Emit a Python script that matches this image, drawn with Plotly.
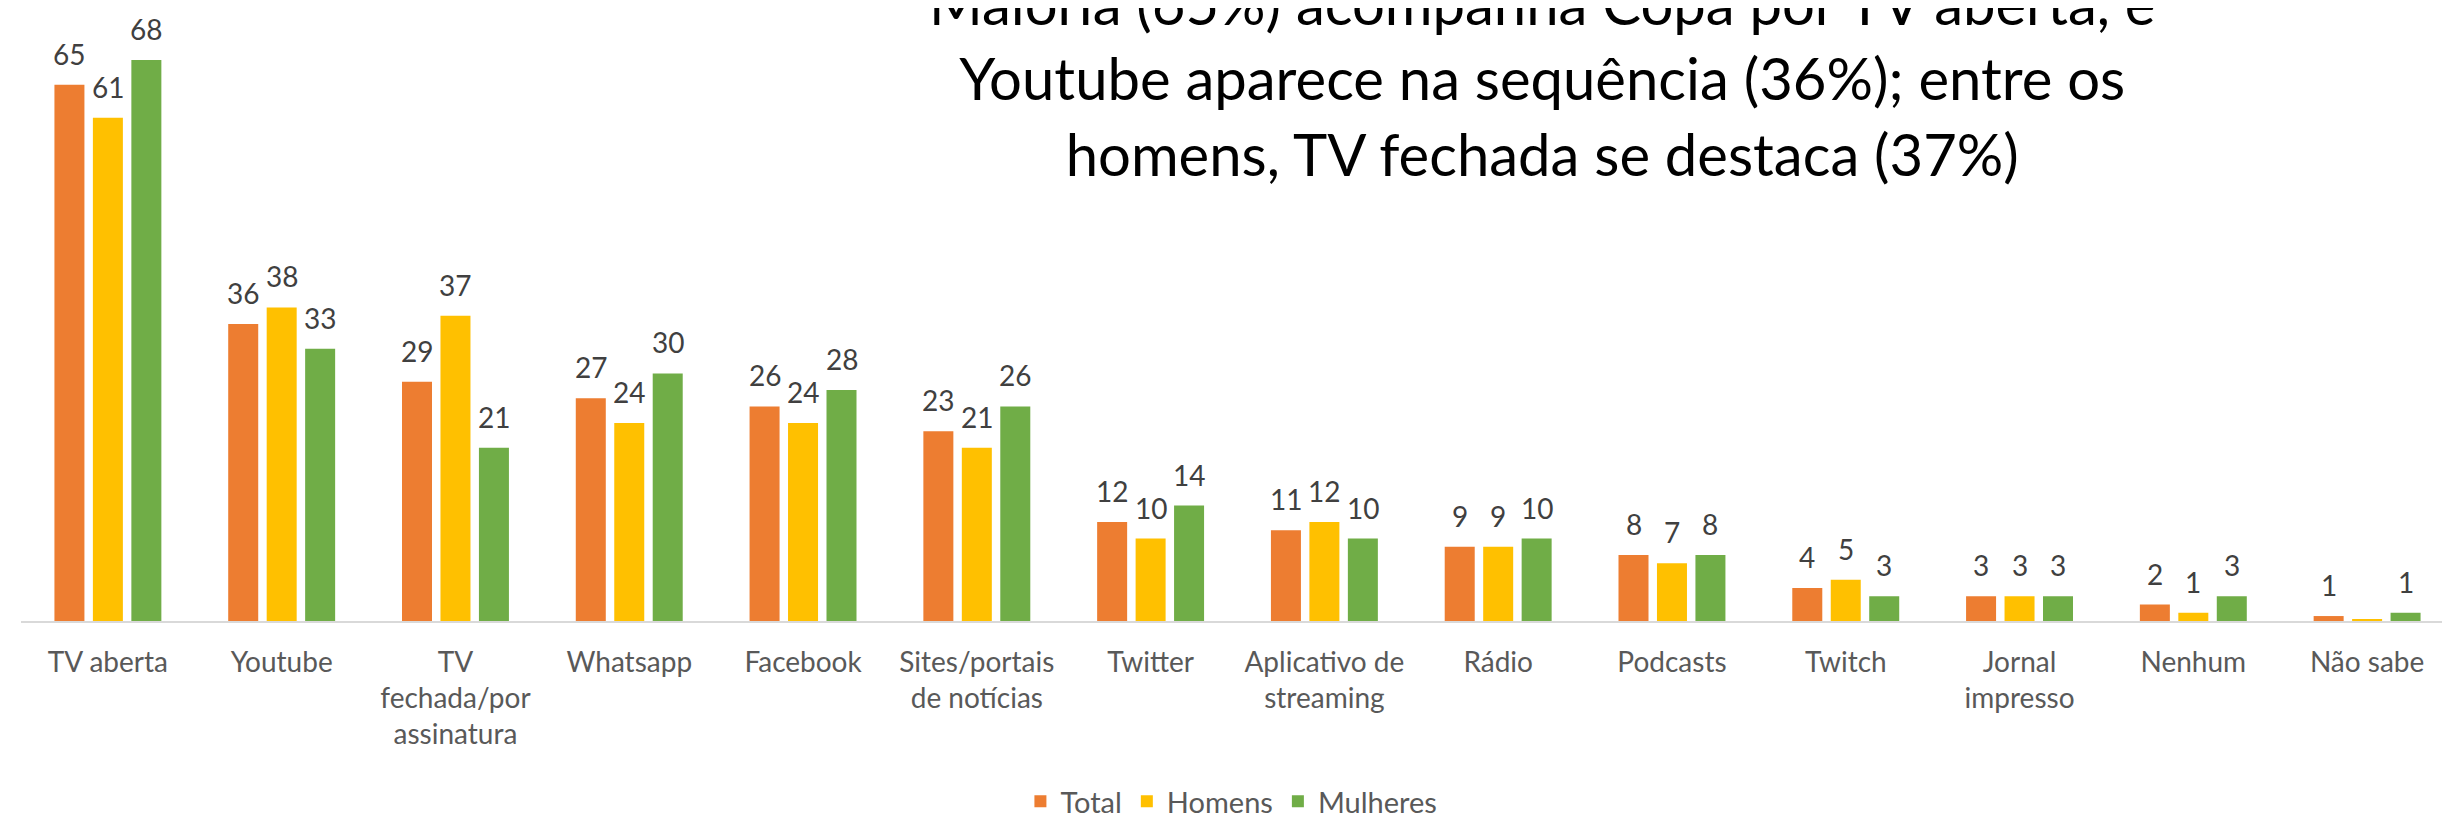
import plotly.graph_objects as go

categories = ["TV aberta", "Youtube", "TV<br>fechada/por<br>assinatura", "Whatsapp", "Facebook",
              "Sites/portais<br>de notícias", "Twitter", "Aplicativo de<br>streaming", "Rádio",
              "Podcasts", "Twitch", "Jornal<br>impresso", "Nenhum", "Não sabe"]
total = [65, 36, 29, 27, 26, 23, 12, 11, 9, 8, 4, 3, 2, 0.6]
homens = [61, 38, 37, 24, 24, 21, 10, 12, 9, 7, 5, 3, 1, 0.2]
mulheres = [68, 33, 21, 30, 28, 26, 14, 10, 10, 8, 3, 3, 3, 1.0]
series_names = ["Total", "Homens", "Mulheres"]
colors = ["#ED7D31", "#FFC000", "#70AD47"]
title_text = ("Maioria (65%) acompanha Copa por TV aberta, e<br>"
              "Youtube aparece na sequência (36%); entre os<br>"
              "homens, TV fechada se destaca (37%)")

FONT = "Lato"
BARGAP = 0.336
BARGROUPGAP = 0.22

fig = go.Figure()
series = [total, homens, mulheres]
for name, vals, col in zip(series_names, series, colors):
    fig.add_trace(go.Bar(name=name, x=categories, y=vals, marker_color=col,
                         marker_line_width=0))

# value labels
slot = (1 - BARGAP) / 3
for k, vals in enumerate(series):
    off = (k - 1) * slot
    for i, v in enumerate(vals):
        lab = round(v)
        if lab == 0:
            continue
        fig.add_annotation(x=i + off, y=v, xref="x", yref="y", text=str(lab),
                           showarrow=False, yanchor="bottom", yshift=12,
                           font=dict(family=FONT, size=28, color="#404040"))

fig.add_annotation(x=0.625, y=0.8857, xref="paper", yref="paper", text=title_text,
                   showarrow=False, xanchor="center", yanchor="middle",
                   font=dict(family=FONT, size=58, color="#000000"))

fig.update_layout(
    width=2450, height=819,
    margin=dict(l=13, r=4, t=0, b=198),
    paper_bgcolor="white", plot_bgcolor="white",
    barmode="group", bargap=BARGAP, bargroupgap=BARGROUPGAP,
    showlegend=True,
    legend=dict(orientation="h", x=0.4975, xanchor="center", y=-0.295, yanchor="middle",
                font=dict(family=FONT, size=29, color="#595959"),
                traceorder="normal", itemwidth=30),
    xaxis=dict(showline=True, linecolor="#D9D9D9", linewidth=2, ticks="outside",
               ticklen=15, tickcolor="rgba(0,0,0,0)",
               tickfont=dict(family=FONT, size=28, color="#595959"), fixedrange=True),
    yaxis=dict(range=[0, 74.3], showgrid=False, showticklabels=False, zeroline=False,
               showline=False),
    font=dict(family=FONT),
)
fig.write_html("out.html")
